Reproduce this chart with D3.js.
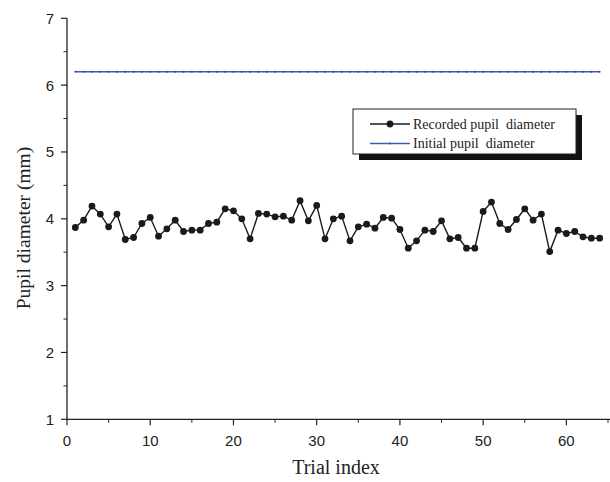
<!DOCTYPE html>
<html>
<head>
<meta charset="utf-8">
<script src="https://cdn.jsdelivr.net/npm/d3@7"></script>
<style>
  body { margin: 0; background: #fff; }
  svg { display: block; }
</style>
</head>
<body>
<svg id="chart"></svg>
<script>
// recorded pupil diameter per trial (mm), trials 1..64
const trials = d3.range(1, 65);
const recorded = [
  3.87, 3.98, 4.19, 4.07, 3.88, 4.07, 3.69, 3.72, 3.93, 4.02,
  3.74, 3.85, 3.98, 3.81, 3.83, 3.83, 3.93, 3.95, 4.15, 4.12,
  4.00, 3.70, 4.08, 4.07, 4.03, 4.04, 3.98, 4.27, 3.97, 4.20,
  3.70, 4.00, 4.04, 3.67, 3.88, 3.92, 3.86, 4.02, 4.01, 3.84,
  3.56, 3.67, 3.83, 3.81, 3.97, 3.70, 3.72, 3.56, 3.56, 4.11,
  4.25, 3.93, 3.84, 3.99, 4.15, 3.98, 4.07, 3.51, 3.83, 3.78,
  3.81, 3.73, 3.71, 3.71
];
const initialDiameter = 6.2;
const xTicks = [0, 10, 20, 30, 40, 50, 60];
const yTicks = [1, 2, 3, 4, 5, 6, 7];
const legendLabels = ["Recorded pupil  diameter", "Initial pupil  diameter"];

const width = 610, height = 482;
const margin = { top: 18, right: 2, bottom: 63, left: 67 };

const svg = d3.select("#chart")
  .attr("width", width)
  .attr("height", height);

const x = d3.scaleLinear().domain([0, 65]).range([margin.left, 608]);
const y = d3.scaleLinear().domain([1, 7]).range([height - margin.bottom + 0.3, margin.top + 0.3]);

const sans = "'Liberation Sans', Arial, sans-serif";
const serif = "'Liberation Serif', 'Times New Roman', serif";

// axes
const xAxis = svg.append("g").attr("transform", `translate(0,${y(1)})`);
xAxis.append("line")
  .attr("x1", x(0)).attr("x2", width)
  .attr("stroke", "#222").attr("stroke-width", 1.3);
xAxis.selectAll(".minor")
  .data(d3.range(5, 70, 10))
  .join("line")
  .attr("x1", d => x(d)).attr("x2", d => x(d))
  .attr("y1", 0).attr("y2", 3.5)
  .attr("stroke", "#222").attr("stroke-width", 1);
xAxis.selectAll(".major")
  .data(xTicks)
  .join("line")
  .attr("x1", d => x(d)).attr("x2", d => x(d))
  .attr("y1", 0).attr("y2", 6)
  .attr("stroke", "#222").attr("stroke-width", 1.2);
xAxis.selectAll("text")
  .data(xTicks)
  .join("text")
  .attr("x", d => x(d))
  .attr("y", 27)
  .attr("text-anchor", "middle")
  .attr("font-family", sans)
  .attr("font-size", 15)
  .attr("fill", "#222")
  .text(d => d);

const yAxis = svg.append("g").attr("transform", `translate(${x(0)},0)`);
yAxis.append("line")
  .attr("y1", y(1)).attr("y2", y(7))
  .attr("stroke", "#222").attr("stroke-width", 1.3);
yAxis.selectAll(".minor")
  .data(d3.range(1.5, 7, 1))
  .join("line")
  .attr("y1", d => y(d)).attr("y2", d => y(d))
  .attr("x1", 0).attr("x2", -3.5)
  .attr("stroke", "#222").attr("stroke-width", 1);
yAxis.selectAll(".major")
  .data(yTicks)
  .join("line")
  .attr("y1", d => y(d)).attr("y2", d => y(d))
  .attr("x1", 0).attr("x2", -6)
  .attr("stroke", "#222").attr("stroke-width", 1.2);
yAxis.selectAll("text")
  .data(yTicks)
  .join("text")
  .attr("x", -13)
  .attr("y", d => y(d) + 5.5)
  .attr("text-anchor", "end")
  .attr("font-family", sans)
  .attr("font-size", 15)
  .attr("fill", "#222")
  .text(d => d);

// axis titles
svg.append("text")
  .attr("x", 336).attr("y", 474)
  .attr("text-anchor", "middle")
  .attr("font-family", serif)
  .attr("font-size", 20)
  .attr("fill", "#222")
  .text("Trial index");

svg.append("text")
  .attr("transform", "translate(30,228) rotate(-90)")
  .attr("text-anchor", "middle")
  .attr("font-family", serif)
  .attr("font-size", 19.5)
  .attr("fill", "#222")
  .text("Pupil diameter (mm)");

// initial diameter line
svg.append("line")
  .attr("x1", x(1)).attr("x2", x(64))
  .attr("y1", y(initialDiameter)).attr("y2", y(initialDiameter))
  .attr("stroke", "#3f5fae").attr("stroke-width", 1.6);
svg.append("g").selectAll("circle")
  .data(trials)
  .join("circle")
  .attr("cx", d => x(d))
  .attr("cy", y(initialDiameter))
  .attr("r", 0.9)
  .attr("fill", "#2a4690");

// recorded series
const line = d3.line()
  .x((d, i) => x(trials[i]))
  .y(d => y(d));

svg.append("path")
  .datum(recorded)
  .attr("d", line)
  .attr("fill", "none")
  .attr("stroke", "#1a1a1a")
  .attr("stroke-width", 1.4);

svg.append("g").selectAll("circle")
  .data(recorded)
  .join("circle")
  .attr("cx", (d, i) => x(trials[i]))
  .attr("cy", d => y(d))
  .attr("r", 3.4)
  .attr("fill", "#1a1a1a");

// legend
const legend = svg.append("g").attr("transform", "translate(353,109)");
legend.append("rect")
  .attr("x", 6).attr("y", 6)
  .attr("width", 223).attr("height", 45)
  .attr("fill", "#111");
legend.append("rect")
  .attr("x", 0).attr("y", 0)
  .attr("width", 223).attr("height", 45)
  .attr("fill", "#fff")
  .attr("stroke", "#222").attr("stroke-width", 1);

const item = legend.selectAll(".item")
  .data(legendLabels)
  .join("g")
  .attr("transform", (d, i) => `translate(0,${15 + i * 19.5})`);
item.append("line")
  .attr("x1", 17).attr("x2", 57)
  .attr("stroke", (d, i) => i === 0 ? "#1a1a1a" : "#3f5fae")
  .attr("stroke-width", (d, i) => i === 0 ? 1.4 : 1.6);
item.append("circle")
  .attr("cx", 37)
  .attr("r", (d, i) => i === 0 ? 3.4 : 0.9)
  .attr("fill", (d, i) => i === 0 ? "#1a1a1a" : "#2a4690");
item.append("text")
  .attr("x", 60)
  .attr("y", 4.5)
  .attr("font-family", serif)
  .attr("font-size", 14)
  .attr("fill", "#222")
  .style("white-space", "pre")
  .text(d => d);
</script>
</body>
</html>
